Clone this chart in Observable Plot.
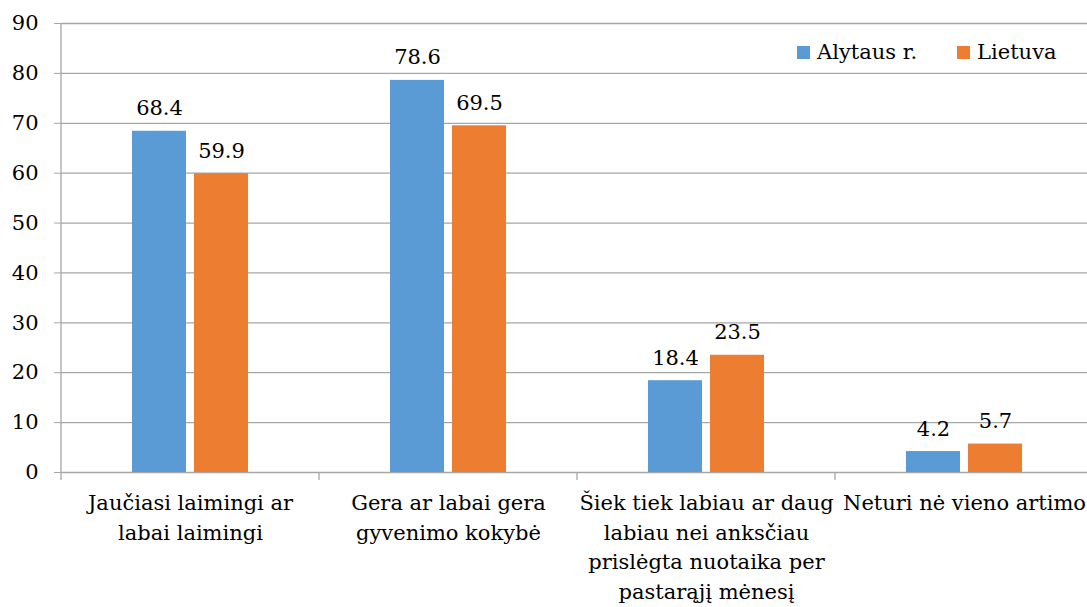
<!DOCTYPE html>
<html>
<head>
<meta charset="utf-8">
<script src="https://cdn.jsdelivr.net/npm/d3@7"></script>
<script src="https://cdn.jsdelivr.net/npm/@observablehq/plot@0.6"></script>
</head>
<body style="margin:0;background:#fff">
<div id="wrap" style="position:relative;width:1087px;height:607px;overflow:hidden;font-family:'DejaVu Serif'">
<div id="legend" style="position:absolute;top:40px;left:797px;display:flex;align-items:center;font-size:21px;color:#000;font-family:'DejaVu Serif'"></div>
</div>
<script>
const categories = [
  "Jaučiasi laimingi ar\nlabai laimingi",
  "Gera ar labai gera\ngyvenimo kokybė",
  "Šiek tiek labiau ar daug\nlabiau nei anksčiau\nprislėgta nuotaika per\npastarąjį mėnesį",
  "Neturi nė vieno artimo"
];
const seriesNames = ["Alytaus r.", "Lietuva"];
const alytaus = [68.4, 78.6, 18.4, 4.2];
const lietuva = [59.9, 69.5, 23.5, 5.7];
const colors = ["#5b9bd5", "#ed7d31"];
const yTicks = [0, 10, 20, 30, 40, 50, 60, 70, 80, 90];

const rows = [];
categories.forEach((c, i) => {
  rows.push({category: c, series: seriesNames[0], value: alytaus[i]});
  rows.push({category: c, series: seriesNames[1], value: lietuva[i]});
});

const FONT = "DejaVu Serif";
const FS = 21;
const gray = "#a6a6a6";
const plot = Plot.plot({
  width: 1087,
  height: 607,
  marginLeft: 60,
  marginRight: -7,
  marginTop: 23,
  marginBottom: 135,
  style: {fontSize: FS + "px", fontFamily: FONT, color: "#000", background: "#fff", overflow: "visible"},
  fx: {domain: categories, padding: 0, label: null},
  x: {domain: seriesNames, paddingInner: 0.127, paddingOuter: 1.127, axis: null},
  y: {domain: [0, 90], label: null},
  color: {domain: seriesNames, range: colors},
  marks: [
    Plot.ruleY(yTicks, {stroke: gray, strokeWidth: 1.3}),
    Plot.axisY({ticks: yTicks, tickSize: 7, tickPadding: 16, stroke: gray, fill: "#000", label: null, fontSize: FS, fontFamily: FONT}),
    Plot.axisFx({anchor: "bottom", tickSize: 0, tickPadding: 17, label: null, fill: "#000", fontSize: FS, fontFamily: FONT, lineHeight: 1.4}),
    Plot.barY(rows, {fx: "category", x: "series", y: "value", fill: "series"}),
    Plot.text(rows, {fx: "category", x: "series", y: "value", text: d => d.value.toFixed(1), lineAnchor: "bottom", dy: -16, fill: "#000", fontSize: FS, fontFamily: FONT})
  ]
});

document.getElementById("wrap").appendChild(plot);

// left axis line and Excel-style category boundary ticks, placed via Plot's own scales
const fx = plot.scale("fx");
const ys = plot.scale("y");
const svg = d3.select(plot);
const y0 = ys.apply(0), y90 = ys.apply(90);
const bounds = categories.map(c => fx.apply(c)).concat([fx.apply(categories[categories.length - 1]) + fx.bandwidth]);
svg.append("line").attr("x1", bounds[0]).attr("x2", bounds[0]).attr("y1", y90).attr("y2", y0 + 8).attr("stroke", gray).attr("stroke-width", 1.3);
bounds.slice(1).forEach(b => {
  svg.append("line").attr("x1", b).attr("x2", b).attr("y1", y0).attr("y2", y0 + 8).attr("stroke", gray).attr("stroke-width", 1.3);
});

const legend = document.getElementById("legend");
seriesNames.forEach((s, i) => {
  const it = document.createElement("div");
  it.style.cssText = "display:flex;align-items:center;margin-right:" + (i === 0 ? 40 : 0) + "px";
  const sw = document.createElement("div");
  sw.style.cssText = "width:13px;height:13px;margin-right:7px;background:" + colors[i];
  const t = document.createElement("span");
  t.textContent = s;
  it.appendChild(sw); it.appendChild(t);
  legend.appendChild(it);
});
document.getElementById("wrap").appendChild(legend);
</script>
</body>
</html>
